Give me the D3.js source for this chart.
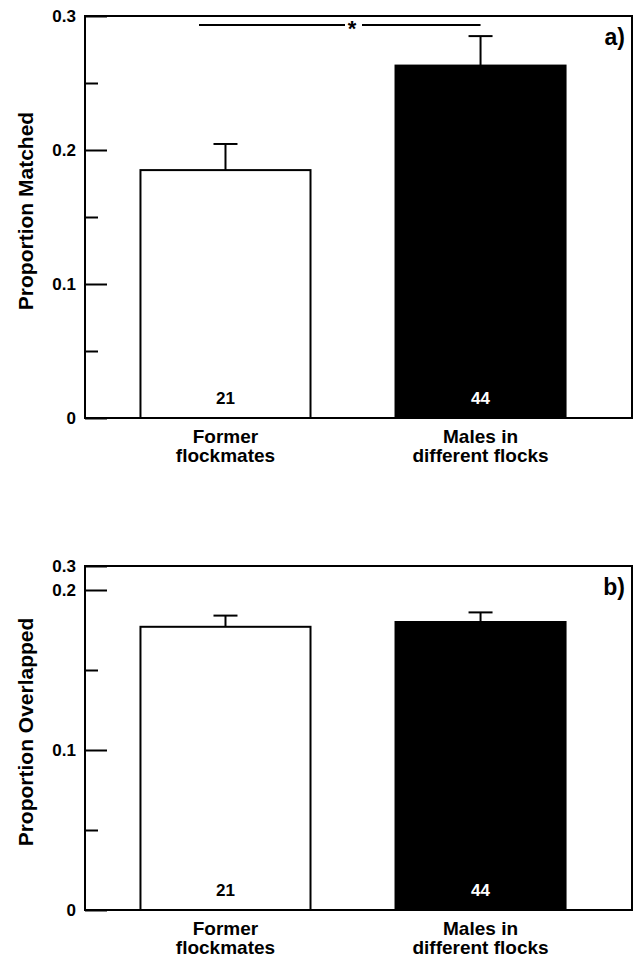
<!DOCTYPE html>
<html>
<head>
<meta charset="utf-8">
<script src="https://cdn.jsdelivr.net/npm/d3@7"></script>
<style>
  body { margin: 0; background: #fff; }
  svg { display: block; font-family: "Liberation Sans", Arial, sans-serif; font-weight: bold; }
</style>
</head>
<body>
<div id="chart"></div>
<script>
// data
const categories = ['Former flockmates', 'Males in different flocks'];
const categoryLines = [['Former', 'flockmates'], ['Males in', 'different flocks']];
const sampleSizes = [21, 44];
const matchedMeans = [0.185, 0.263];
const matchedErrors = [0.0195, 0.022];
const overlapMeans = [0.177, 0.180];
const overlapErrors = [0.007, 0.006];
const matchedTicks = [0, 0.1, 0.2, 0.3];
const matchedTickLabels = ['0', '0.1', '0.2', '0.3'];
const overlapTicks = [0, 0.1, 0.2, 0.215];
const overlapTickLabels = ['0', '0.1', '0.2', '0.3'];
const fills = ['#fff', '#000'];
const countColors = ['#000', '#fff'];

const canvasWidth = 635;
const canvasHeight = 959;

const svg = d3.select('#chart')
  .append('svg')
  .attr('width', canvasWidth)
  .attr('height', canvasHeight)
  .attr('viewBox', `0 0 ${canvasWidth} ${canvasHeight}`);

function panel(opts) {
  const { top, bottom, yMax, means, errors, ticks, tickLabels, minor, title, tag } = opts;
  const left = 85;
  const right = 632;

  const x = d3.scaleBand()
    .domain(categories)
    .range([left, right])
    .paddingInner(1 / 3)
    .paddingOuter(0.239)
    .align(0.455);
  const y = d3.scaleLinear()
    .domain([0, yMax])
    .range([bottom, top]);

  const g = svg.append('g');

  // bars
  g.selectAll('.bar')
    .data(categories)
    .enter()
    .append('rect')
      .attr('x', d => x(d))
      .attr('y', (d, i) => y(means[i]))
      .attr('width', x.bandwidth())
      .attr('height', (d, i) => bottom - y(means[i]))
      .attr('fill', (d, i) => fills[i])
      .attr('stroke', '#000')
      .attr('stroke-width', 2);

  // error bars
  const err = g.selectAll('.err')
    .data(categories)
    .enter()
    .append('g');
  err.append('line')
    .attr('x1', d => x(d) + x.bandwidth() / 2)
    .attr('x2', d => x(d) + x.bandwidth() / 2)
    .attr('y1', (d, i) => y(means[i]))
    .attr('y2', (d, i) => y(means[i] + errors[i]))
    .attr('stroke', '#000')
    .attr('stroke-width', 2);
  err.append('line')
    .attr('x1', d => x(d) + x.bandwidth() / 2 - 12)
    .attr('x2', d => x(d) + x.bandwidth() / 2 + 12)
    .attr('y1', (d, i) => y(means[i] + errors[i]))
    .attr('y2', (d, i) => y(means[i] + errors[i]))
    .attr('stroke', '#000')
    .attr('stroke-width', 2);

  // sample sizes
  g.selectAll('.n')
    .data(categories)
    .enter()
    .append('text')
      .attr('x', d => x(d) + x.bandwidth() / 2)
      .attr('y', bottom - 14)
      .attr('text-anchor', 'middle')
      .attr('font-size', 17)
      .attr('fill', (d, i) => countColors[i])
      .text((d, i) => sampleSizes[i]);

  // category labels
  categoryLines.forEach((lines, i) => {
    lines.forEach((t, j) => {
      g.append('text')
        .attr('x', x(categories[i]) + x.bandwidth() / 2)
        .attr('y', bottom + 25 + j * 19)
        .attr('text-anchor', 'middle')
        .attr('font-size', 19)
        .text(t);
    });
  });

  // y axis, ticks pointing inward
  const axis = g.append('g')
    .attr('transform', `translate(${left},0)`)
    .call(d3.axisLeft(y)
      .tickValues(ticks)
      .tickFormat((d, i) => tickLabels[i])
      .tickSizeInner(-22)
      .tickSizeOuter(0)
      .tickPadding(9));
  axis.select('.domain').remove();
  axis.selectAll('line').attr('stroke-width', 2);
  axis.selectAll('text')
    .attr('font-size', 17)
    .attr('font-family', '"Liberation Sans", Arial, sans-serif')
    .attr('font-weight', 'bold')
    .attr('fill', '#000');

  const minorAxis = g.append('g')
    .attr('transform', `translate(${left},0)`)
    .call(d3.axisLeft(y)
      .tickValues(minor)
      .tickFormat('')
      .tickSizeInner(-13)
      .tickSizeOuter(0));
  minorAxis.select('.domain').remove();
  minorAxis.selectAll('line').attr('stroke-width', 2);

  // frame
  g.append('rect')
    .attr('x', left)
    .attr('y', top)
    .attr('width', right - left)
    .attr('height', bottom - top)
    .attr('fill', 'none')
    .attr('stroke', '#000')
    .attr('stroke-width', 2);

  // axis title
  g.append('text')
    .attr('transform', `translate(33, ${(top + bottom) / 2 - 6}) rotate(-90)`)
    .attr('text-anchor', 'middle')
    .attr('font-size', 21)
    .text(title);

  // panel tag
  g.append('text')
    .attr('x', 625)
    .attr('y', top + 29)
    .attr('text-anchor', 'end')
    .attr('font-size', 23)
    .text(tag);

  return { x, y, g };
}

const a = panel({
  top: 16,
  bottom: 418,
  yMax: 0.3,
  means: matchedMeans,
  errors: matchedErrors,
  ticks: matchedTicks,
  tickLabels: matchedTickLabels,
  minor: [0.05, 0.15, 0.25],
  title: 'Proportion Matched',
  tag: 'a)',
});

// significance line with asterisk
const sigY = 25;
const sigLeft = 199;
const sigRight = a.x(categories[1]) + a.x.bandwidth() / 2;
const starX = 352;
a.g.append('line')
  .attr('x1', sigLeft).attr('x2', starX - 7)
  .attr('y1', sigY).attr('y2', sigY)
  .attr('stroke', '#000').attr('stroke-width', 2);
a.g.append('line')
  .attr('x1', starX + 10).attr('x2', sigRight)
  .attr('y1', sigY).attr('y2', sigY)
  .attr('stroke', '#000').attr('stroke-width', 2);
a.g.append('text')
  .attr('x', starX)
  .attr('y', sigY + 11)
  .attr('text-anchor', 'middle')
  .attr('font-size', 22)
  .text('*');

panel({
  top: 566,
  bottom: 910,
  yMax: 0.215,
  means: overlapMeans,
  errors: overlapErrors,
  ticks: overlapTicks,
  tickLabels: overlapTickLabels,
  minor: [0.05, 0.15],
  title: 'Proportion Overlapped',
  tag: 'b)',
});
</script>
</body>
</html>
